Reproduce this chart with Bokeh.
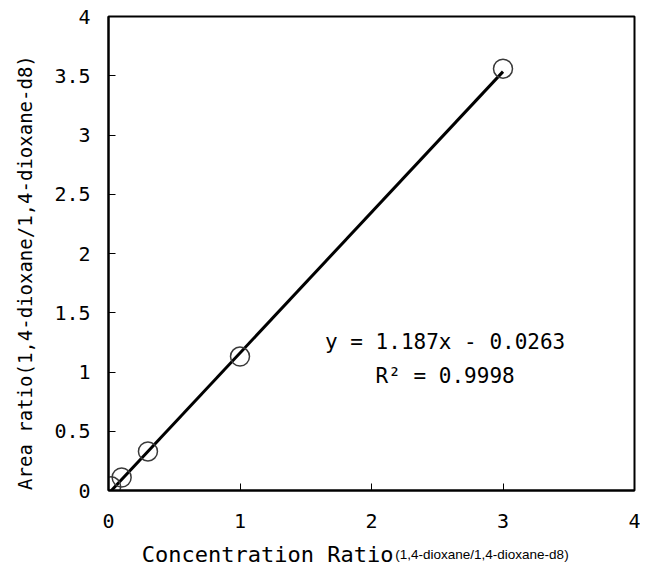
import math
from bokeh.plotting import figure
from bokeh.models import Range1d, FixedTicker, NumeralTickFormatter, Label, LinearAxis
from bokeh.embed import file_html
from bokeh.resources import INLINE

# data
conc_ratio = [0.02, 0.1, 0.3, 1.0, 3.0]
area_ratio = [0.035, 0.11, 0.33, 1.13, 3.56]
slope = 1.187
intercept = -0.0263
r_squared = 0.9998
x_ticks = [0, 1, 2, 3, 4]
y_ticks = [0, 0.5, 1, 1.5, 2, 2.5, 3, 3.5, 4]
x_title_main = "Concentration Ratio"
x_title_sub = "(1,4-dioxane/1,4-dioxane-d8)"
y_title = "Area ratio(1,4-dioxane/1,4-dioxane-d8)"

MONO = "DejaVu Sans Mono"
SANS = "Liberation Sans"

p = figure(width=640, height=569, output_backend="svg", toolbar_location=None,
           x_range=Range1d(0, 4), y_range=Range1d(0, 4),
           min_border_left=108, min_border_right=6, min_border_top=16, min_border_bottom=78)
p.grid.visible = False
p.outline_line_color = "black"
p.outline_line_width = 2
p.background_fill_color = "white"
p.border_fill_color = "white"

for ax, ticks in ((p.xaxis[0], x_ticks), (p.yaxis[0], y_ticks)):
    ax.ticker = FixedTicker(ticks=ticks)
    ax.formatter = NumeralTickFormatter(format="0.[0]")
    ax.axis_line_width = 2
    ax.axis_line_color = "black"
    ax.major_tick_in = 7
    ax.major_tick_out = 0
    ax.major_tick_line_color = "black"
    ax.minor_tick_line_color = None
    ax.major_label_text_font = MONO
    ax.major_label_text_font_size = "20px"
    ax.major_label_text_color = "black"
p.xaxis[0].major_label_standoff = 23
p.yaxis[0].major_label_standoff = 18

# axis titles drawn as label-only axes so they can be placed and sized freely
def title_axis(side, pos, text, font, size, standoff, orientation="horizontal"):
    a = LinearAxis(ticker=FixedTicker(ticks=[pos]), major_label_overrides={pos: text},
                   axis_line_color=None, major_tick_line_color=None, minor_tick_line_color=None,
                   major_tick_in=0, major_tick_out=0,
                   major_label_text_font=font, major_label_text_font_size=size,
                   major_label_text_color="black", major_label_standoff=standoff,
                   major_label_orientation=orientation)
    p.add_layout(a, side)
    return a

title_axis("below", 1.21, x_title_main, MONO, "22px", 11)
title_axis("below", 2.84, x_title_sub, SANS, "13.5px", -23)
title_axis("left", 2.33, y_title, MONO, "19px", 26, math.pi / 2)

# regression line across the data span
x0, x1 = min(conc_ratio), max(conc_ratio)
p.line([x0, x1], [slope * x0 + intercept, slope * x1 + intercept],
       line_color="black", line_width=3)

p.scatter(conc_ratio, area_ratio, size=19, marker="circle",
          fill_color=None, line_color="#3a3a3a", line_width=1.5)

eq = Label(x=2.56, y=1.25, text="y = 1.187x - 0.0263", text_align="center",
           text_baseline="middle", text_font=MONO, text_font_size="21px", text_color="black")
r2 = Label(x=2.56, y=0.97, text="R\u00b2 = 0.9998", text_align="center",
           text_baseline="middle", text_font=MONO, text_font_size="21px", text_color="black")
p.add_layout(eq)
p.add_layout(r2)

open("out.html", "w").write(file_html(p, INLINE))
